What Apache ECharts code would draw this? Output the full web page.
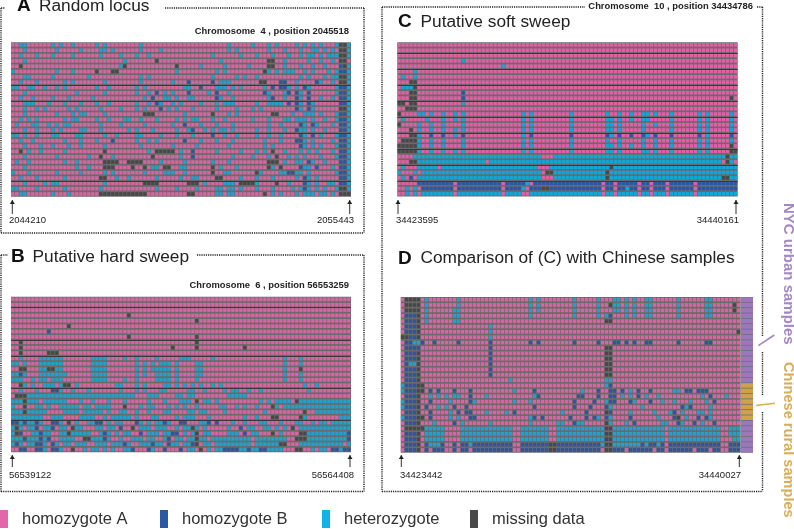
<!DOCTYPE html>
<html><head><meta charset="utf-8">
<style>html,body{margin:0;padding:0;background:#fff}#c{width:794px;height:529px}</style>
<script src="https://cdn.jsdelivr.net/npm/echarts@6/dist/echarts.min.js"></script>
</head><body><div id="c"></div>
<script>
// . homozygote A, B homozygote B, H heterozygote, M missing
const rowsA = [
"..HH...... H.H..H.... .H.H...... ..H....... .......... ....H..... H...H.H... .H.H.H.H.. .HMMH",
"...H...... .H.....H.. ..HH.H.... ..H....H.. .......... ....H.H... ....H...H. ..H..HH.H. H.MMH",
"..H...H... H....H.... ..H....H.. .H..H..... .......... H......H.. .H...H...H ..H.HH.H.H HHMMH",
"...H...... .......... ........H. ......M... .......... ..H....... ....MM..H. ....H..H.. H.MM.",
"..M....... .......... .......HM. .......... .M.....H.. ...H.....H ....MM..H. ..H..H..H. ..BMH",
"H......... .H...H.... .M...MM... .......... .H........ .H.H...... ...MH.H.HH H..H.H...H .HBBH",
"...HH..... H........H .......... ..H.H..... .......... H.....H.H. .H........ ..H.H...H. HHMMH",
"..H...H... ...H.H.... ...H...... ..H....... H...B..... B.HHH..... ..MM...BB. .H....BH.. H.MMH",
"HH..HH..H. .H.H...... .H..H..... .H.H...... ...HH..B.. .HHH.H.H.. ...H.B.BBH .H.BH..... .HBBH",
"...H...... ......H... ...H...... .H..H.B.H. H...B....H .B..H..... ...BH...HB .BH.B..... .HBBH",
"..H..H.... H...H..... H......... ...H.B..HH .H..HH.... .BH..H.... ....HB..H. .BH.B..H.. H.BBH",
"...HHH...H ...H...H.. .H..H..... .H..H.BH.. H.H....H.. .H.HHH.... .H..HHHH.B .BH.BH.... ..BBH",
"...H..H.H. ....H.H... ..H....H.. .H.H...B.H .H...H.... .H....H... H.H....... .BH.BH.... ..MMH",
"...H...... .H...H.HH. ...H...... ...MMM.... ...H...... M...H.H... .....MM... H..HHH.H.. .HBBH",
"..H.H.H... ...H.HH... .H..H...HH ..H...H... .H.H.HH... H..H...... H...H...HH .HHH.H..H. .HBBH",
".H...HH..H .H.HH..... ..H....H.. ...H...... H..B...H.. .H...H.... ....H..H.. ..BH.BH... H.BBH",
"...H..H... H.H....HH. ..H......H .H...H.... .H..HB..H. H.HH.H.... .H..H...H. .BHH.H..H. ..BBH",
"HH.H..H... HH....HH.. ...H..H... .HH....H.. .H...H.... B..H..H... .H..H..H.. ..BH.B.H.. .HBBH",
"..H..H.... ...H...H.. .H...B.... .H..H.H... ...B...H.. .H...H.... ...H...H.. .BBH.H.... H.BBH",
"...H...H.. H...H..H.. ...H...... ..H....... H.....H... ....H..... ...H.H.... ..BH.H.H.. .HBBH",
"..M.H..H.. ...H...... ...M...... ....H.MMMM M.H..B.... .H.....H.. .H.H.M..H. ..H.H.H... H.BBH",
"...H...... .H.......H ..M..H.... .....M.... ..H..B.... .....H.... H...H.M..H .H.H...H.. .HBBH",
".H..H..... ...H..H... ...MMMM..M MMM....H.. ...H...... H...H..... ....MMM.H. .HH.BH..H. ..BBH",
"...H...... ......H..H ...MMM.... M..M.HH.MM ..HH...... M.H...H... ....MH.M.. ..BHH.B... H.BBH",
"H...H..... .H.....H.. ...H.H.... ...H....HH H..H...... M..HH..... .MH....HHB BHH.H..... .HBBH",
"..H...H... ...H...... ..MM..H..H ......H... ..H..HH... .MM....H.. .H...H.... .H.BH.H... ..BBH",
"...H....H. HH........ ...H...... ...MMMM... ....MMM.H. ...HHH.MMM MH....M..H ...BH.H..H H.BBH",
"HH....H... ...H...... ..H....... ......H... .H....H... .HH.HH.H.. .H...H.... H.HBH.H.H. .HMMH",
"..HH...... H...H..... ..MMMMMMMM MMMM...... ....MM.... .HH.HH.... ...M.H.H.. .H.HHH.HH. H.MMM"
];
const rowsB = [
".......... .......... .......... .......... .......... .......... .......... .......... .....",
".......... .......... .......... .......... .......... .......... .......... .......... .....",
".......... .......... .......... .......... .......... .......... .......... .......... .....",
".......... .......... .........M .......... .......... .......... .......... .......... .....",
".......... .......... .......... .......... ......M... .......... .......... .......... .....",
".......... ....M..... .......... .......... .......... .......... .......... .......... .....",
".........B .......... .......... .......... .......... .......... .......... .......... .....",
".......... .......... .........M .......... ......M... .......... .......... .......... .....",
"..M....... .......... .......... .......... ......M... .......... .......... .......... .....",
"..M....... .......... .......... .......... M.....M... ........M. .......... .......... .....",
"..M......M MM........ .......... .......... .......... .......... .......... .......... .....",
"..H....HHH HHH....... HHHH....H. .H....H... ..HHH..... H......... ........H. ..H....... .....",
"HH.H...HHH HHH....... HHHH...... .H.H.H.HHH .H....HH.. .......... ........H. ..H....... .....",
"..MM...HHM MHH....... HHHH...... .H.H.HHHHH .H....HH.. .......... ........H. ..M....... .....",
"HHBH...HHH HHHH...... HHHH...... .H.H..HHHH .H....HH.. .......... ........H. ..H....... .....",
"HHH..H.HH. HHH....... HHHH....H. .H....HHHH .H....H... .......... ........H. ..H....... .....",
"..MH.H..HH H.HMM.H... ......HH.. .H.H....HH .H.H.H.H.. H.H....... .......... ...H..H... .....",
"..H...H... BBH..H...H .......H.. .H.H...HH. ....HH..H. ...H.HH..H ..H....... ....H..... .....",
".MMMHHHHHH HHHHHHHHHH HHHHHHHHHH H...HHH... .HH.HH.... ....HHHHH. .......... .......... .....",
"HHHMHHH.HH HHHH...H.. H...H...H. ....H...H. ..HHH.M.HH .H........ ..H.H.HHHH .MHHHHHHHH HHHHH",
"H..M..HH.H ..HHHHH.HH .HHHH...M. ..H.HH...H .H.H..H... ..HH..H.H. .H...MH.HH HHHHHHHHHH HHHHH",
"HHHMHHHHH. ...HHHH.HH HHH.H..HH. .H..H...HH ....HH.HH. ...H...... ...H...... ...M..HHHH HHHHH",
"HHHHHHHH.. HHH....HHH H..H.HHHHH .H...HH... .H.HHH...H ........H. .H...MM... ..MH...... ..HHH",
"BBHBHHBH.. BBH.M.H..H HBB.H.HH.. .BH.H.HHBH ..BB...HHB .B...H..H. ..HH...H.. .HH..H.HH. HHHHH",
"HMH.HHB.HH B.HH.MHH.. .HH.HH.B.. M.HHH.HHH. .H.HHMH.H. ....H..B.H H..HH.H.H. M.HHHHHHHH HHHHH",
"HMB..HHBHH ..HHMHHHHH ..HBH.H.HH ..B.HHH.HH BB.H.HM.HH ....HHH.B. HH...M.H.. ..MMHHHHHH HHHHB",
"HHHBHHHBHB ..HHHH..MM HHHBH..H.. HHH.HH..HB .HH.HHMHH. HHHHHHHHHH .HHHHHHHH. .MMMHHHHHH HHHHB",
"HBH.HHBBH. BH.HH.HHH. .HHH.HHHBH ..HHHBHH.B HH.HHBM.HH .HHHHHHHHH .HHHHHHMM. ..HHHHHHHH HHH.H",
"..BB..BBH. BBH..M..H. HH.H.H..HH B...BH..B. ..B.HH.M.H .HHBBBBHHB HHBBHHHH.. .MM..H.HH. BBHBB"
];
const rowsC = [
".......... .......... .......... .......... .......... .......... .......... .......... .....",
".......... .......... .......... .......... .......... .......... .......... .......... .....",
".......... .......... .......... .......... .......... .......... .......... .......... .....",
".......... ......H... .......... .......... .......... .......... .......... .......... .....",
".......... .......... ......H... .......... .......... .......... .......... .......... .....",
"....H..... .......... .......... .......... .......... .......... .......... .......... .....",
".H..H..... .......... .......... .......... .......... .......... .......... .......... .....",
"...MM..... .......... .......... .......... .......... .......... .......... .......... .....",
".HHHM..... .......... .......... .......... .......... .......... .......... .......... .....",
"...MM..... ......B... .......... .......... .......... .......... .......... .......... .....",
"...MM..... ......B... .......... .......... .......... .......... .......... .......... ...M.",
"MM.MM..... ......H... .......... .......... .......... .......... .......... .......... .....",
"..MMM..... .......... .......... .......... .......... .......... .......... .......... .....",
"M....HH.H. .H..H.H... .......... .H.H...... ...H...... ..H..H..H. .HH.H...H. .....H.H.. ...H.",
".H.....H.. .H..H.H... .......... .H.H...... ...H...... ..HH.H..H. .HH.....H. .....H.H.. ...H.",
"M....H..H. .H....H... .......... .H.H...... ...H...... ..HH.H.... .H..H...H. .....H.H.. ...H.",
"...M.H..H. .H..H.H... .......... .H.H...... ...H...... ..HH.H.... .H......H. .....H.H.. ...H.",
"...MMH..B. .B..H.B... .......... .H.B...... ...B...... ..BH.B..B. .BH.B...B. .....B.H.. ...B.",
".MMMMH..H. .H....H... .......... .H.H...... ...H...... ..H..H.... .H..H...H. .....H.H.. ...H.",
"MMMMMH..H. .H....H... .......... .H.H...... ...H...... ..HH.H..H. .H..H...H. .....H.H.. ...M.",
"MMMMMH..H. .H..H.H... .......... .H.H...... ...H...... ..HH.H.... .HH.H...H. .....H.H.. ...MM",
"....HHHHHH HHHHHHHHHH HHHHHHHHHH HHHHHH...H HHHHHHHHHH HHHHHHHHHH HHHHHHHHHH HHHHHHHHHH HHMHH",
"...MMHHHHH HHHHHHHHHH HH.HHHHHHH HHHHHHHHHH HHHHHHHHHH HHHHHHHHHH HHHHHHHHHH HHHHHHHHHH H.MH.",
".H...HHHHH .HHHHHHHHH HHHHHHHHHH HHHHH...HH HHHHHHHHHH HHHMHHHHHH HHHHHHHHHH HHHHHHHHHH HHHHH",
"H...H.HHHH HHHHHHHHHH HHHHHHHHHH HHHHHH.MMH HHHHHHHHHH HHMHHHHHHH HHHHHHHHHH HHHHHHHHHH HHHHH",
".H.B.HHHHH HHHHHHHHHH HHHHHHHHHH HHHHHH...H HHHHHHHHHH HHMHHHHHHH HHHHHHHHHH HHHHHHHHHH HMMHH",
".....BBBBB BBBB.BBBBB BBBBBB.BBB BBH.BBBBBB BBBBBBBBBB B.BB.BBBBB .BB.BBB.BB BBBB.BBBBB BBBBB",
"..H.H.BBBB BBBB.BBBBB BBBBBB.BBB BH.BBBMMBB BBBBBBBBBB B.BB.BBHBB .BB.BBB.BB BBBB.BBBBB BBBBB",
"..H.H.HHHH HHHH.HHHHH HHHHHH.HHH H..HHHHHHH HHHHHHHHHH H.HH.HHHHH .HH.HHH.HH HHHH.HHHHH HHHHH"
];
const rowsD = [
".MMMM.H... ....H..... .......... ..H.H..... ...H.....H ...HH.H.H. .HH......H ......HH.. .....",
".MMMM.H... ....H..... .......... ..H.H..... ...H.....H ..MHH.H.H. .HH......H ......HH.. ...M.",
".MMMM.H... ...HH..... .......... ..H.H..... ...H.....H ...HH.H.H. .HH......H ......HH.. ...M.",
".BBBM.H... ...HH..... .......... ..H....... ...H.....H .HB...H.H. .HH......H ......HH.. .....",
".BBBM.H... ...HH..... .......... .......... .......... .MM....... .......... .......... .....",
".BBBM..... .......... ..H....... .......... .......... .......... .......... .......... .....",
".BBBM..... .......... ..H....... .......... .......... .......... .......... .......... ....M",
"MMBBM..... .......... ..H....... .......... .......... .......... .......... .......... .....",
".BBHHB..B. ....B..... ..B....... ..B.B..... ...B.....B ...BB.B.B. .BB......B ......BB.. .....",
".BBBB..... .......... ..B....... .......... .......... .MM....... .......... .......... .....",
".BBBM..... .......... ..B....... .......... .......... .MM....... .......... .......... .....",
".BBBM..... .......... ..B....... .......... .......... .MM....... .......... .......... .....",
".BHHM..... .......... ..B....... .......... .......... .MM....... .......... .......... .....",
".BBBM..... .......... ..B....... .......... .......... .MM....... .......... .......... .....",
".BBBM..... .......... ..B....... .......... .......... .MM....... .......... .......... .....",
".BBBM..... .......... .......H.. .......... .......... .HH....... .......... .......... .....",
"HBBBMM.... .......... .......... .......... .......... .HB....... .......... .......... .....",
"HBBBMM.B.B ...B...B.. ........H. ...B...... .....H...B ..BB.B.H.B ..B.....HH .BB.BBB... .....",
".BBBM..H.H .H.HH..B.. .H........ ...HB..... ....BB...B ..BB.H.H.B .H..H..... .....H.B.. .H...",
"HBBBM..B.. ..H....BH. ........H. ..H....... ...B....B. .HBB...BH. ..B..H..H. ..H...H.B. .....",
"HBBBM.B..H .H.B..B... .......... ...B...... ...B...B.. .BH....... H......... BHB....H.. .....",
".BBBM..B.. ..H.B.BB.. .H....H.B. .......... H.....B... .MB....H.. ...H...HB. H...HH.H.. .....",
"HBBBMM.B.. ..H.H..BB. .......... ..HB.B.... ..B...B.BH .BH....B.. ....H...BM .H..B.BH.. .....",
".BBBM...H. ...B.H.... ..H....... ..H......H H..BHH.... .MH...H.B. .....HH..B H..B.H..B. .....",
".MMMMMHHHH H....HHHHH HHHHHHHH.. HHHHHHH..H HHHHHHHHHH HMMHHHHHHH HHHHHH.HHH HHHHHHHHHH ..HHH",
".BBBM.HHHH H....HHHHH HHHHHHHH.. HHHHHHH..H HHHHHHHHHH HMMHHHHHHH HHHHHH.HHH HHHHHHHHHH ..HHH",
".BBBM.HHHH H....HHHHH HHHHHHHH.. HHHHHHH..H HHHHHHHHHH HMMHHHHHHH HHHHHH.HHH HHHHHHHHHH ...HH",
".BBBM.BHHH B..B.BBHBB BBBBBBBB.. BBBBBBBMMB BBBBBBBBBB HMMHHHHHHH BHBBHB.BBB BBBBBBBBBB ..BBB",
".BBBM.B.BB B..B.BB.BB BBBBBBBB.. BBBBBBBMMB BBBBBBBBBB .MMBBB.BBB BBB.BB.BBB BBB.BBB.BB ..BBB"
];
const sampleGroups = ["N","N","N","N","N","N","N","N","N","N","N","N","N","N","N","N","R","R","R","R","R","R","R","N","N","N","N","N","N"];
const darkRows = { A:[8,11,17,26], B:[2,8,11,17,23], C:[2,5,8,11,14,17,20,23,26], D:[] };
const colLabels = ["homozygote A","homozygote B","heterozygote","missing data"];
const regionA = ["2044210","2055443"], regionB = ["56539122","56564408"], regionC = ["34423595","34440161"], regionD = ["34423442","34440027"];

const COLS = 85;
const codes = {".":0,"B":1,"H":2,"M":3};
const cellColor = ["#de62a3","#2c56a3","#14a6d6","#484848"];
const legendColor = ["#e466aa","#2a57a6","#12b4e6","#4a4a4a"];
function toCells(rows){
  const out=[];
  rows.forEach((r,y)=>{
    const s=r.replace(/ /g,"");
    for(let x=0;x<COLS;x++){ out.push([x,y,codes[s[x]]||0]); }
  });
  return out;
}
const panels=[
 {rows:rowsA,dark:darkRows.A,l:11,t:42.3,w:340,h:154.4},
 {rows:rowsB,dark:darkRows.B,l:11,t:296.7,w:340,h:155.6},
 {rows:rowsC,dark:darkRows.C,l:397.3,t:42.3,w:340.4,h:154.2},
 {rows:rowsD,dark:darkRows.D,l:400.7,t:297,w:340,h:155.7}
];
const grid=[],xAxis=[],yAxis=[],series=[];
const rng=n=>Array.from({length:n},(_,i)=>i);
panels.forEach((p,i)=>{
  grid.push({left:p.l,top:p.t,width:p.w,height:p.h,show:true,backgroundColor:"#6a6a6a",borderWidth:0});
  xAxis.push({type:"category",gridIndex:i,show:false,data:rng(COLS)});
  yAxis.push({type:"category",gridIndex:i,show:false,inverse:true,data:rng(29)});
  series.push({type:"custom",xAxisIndex:i,yAxisIndex:i,coordinateSystem:"cartesian2d",silent:true,animation:false,
    data:toCells(p.rows),
    renderItem:(params,api)=>{
      const c=api.coord([api.value(0),api.value(1)]),s=api.size([1,1]);
      return {type:"rect",shape:{x:c[0]-s[0]/2+0.15,y:c[1]-s[1]/2+0.8,width:s[0]-0.7,height:s[1]-1.7},
        style:{fill:cellColor[api.value(2)]}};
    }});
});
// sample group bar beside panel D
grid.push({left:741,top:297,width:12,height:155.7,show:true,backgroundColor:"#6f6f7a",borderWidth:0});
xAxis.push({type:"category",gridIndex:4,show:false,data:[0]});
yAxis.push({type:"category",gridIndex:4,show:false,inverse:true,data:rng(29)});
series.push({type:"custom",xAxisIndex:4,yAxisIndex:4,coordinateSystem:"cartesian2d",silent:true,animation:false,
  data:sampleGroups.map((g,i)=>[0,i,g==="N"?0:1]),
  renderItem:(params,api)=>{
    const c=api.coord([api.value(0),api.value(1)]),s=api.size([1,1]);
    return {type:"rect",shape:{x:c[0]-s[0]/2,y:c[1]-s[1]/2+0.3,width:s[0],height:s[1]-0.8},style:{fill:["#9b78bb","#cfa24a"][api.value(2)]}};
  }});

const F='"Liberation Sans",Arial,sans-serif';
const g=[];
function txt(x,y,t,size,opt={}){
  g.push({type:"text",x,y,rotation:opt.rot||0,style:{text:t,font:`${opt.w||"normal"} ${size}px ${F}`,fill:opt.c||"#222",
    textAlign:opt.a||"left",textVerticalAlign:"middle"},silent:true});
}
function seg(x1,y1,x2,y2,dash=true){
  g.push({type:"line",shape:{x1,y1,x2,y2},style:{stroke:"#222",lineWidth:1.4,lineDash:dash?[1.2,1]:null},silent:true});
}
function arrow(x,y1,y2){
  g.push({type:"line",shape:{x1:x,y1:y1,x2:x,y2:y2},style:{stroke:"#333",lineWidth:1},silent:true});
  g.push({type:"polygon",shape:{points:[[x-2.5,y1+4],[x+2.5,y1+4],[x,y1]]},style:{fill:"#222"},silent:true});
}
// darker separators between some rows
panels.forEach(p=>p.dark.forEach(r=>{
  const y=Math.round(p.t+p.h*r/29)+0.5;
  g.push({type:"line",z:5,shape:{x1:p.l,y1:y,x2:p.l+p.w,y2:y},style:{stroke:"#3a3a3a",lineWidth:1},silent:true});
}));
// frames
seg(1,8,5,8);seg(165,8,364,8);seg(364,8,364,233);seg(1,233,364,233);seg(1,8,1,233);
seg(1,255,8,255);seg(197,255,364,255);seg(364,255,364,491.5);seg(1,491.5,364,491.5);seg(1,255,1,491.5);
seg(382,7,585,7);seg(757,7,762.5,7);seg(382,7,382,491.5);seg(382,491.5,762.5,491.5);
seg(762.5,7,762.5,337);seg(762.5,352,762.5,395);seg(762.5,412,762.5,491.5);
// titles
txt(17,6,"A",19,{w:"bold",c:"#111"});txt(39,6,"Random locus",17.3);
txt(11,257,"B",19,{w:"bold",c:"#111"});txt(32.5,257,"Putative hard sweep",17.3);
txt(398,22,"C",19,{w:"bold",c:"#111"});txt(420.5,22,"Putative soft sweep",17.3);
txt(398,258.5,"D",19,{w:"bold",c:"#111"});txt(420.5,258.5,"Comparison of (C) with Chinese samples",17.3);
// position notes
txt(349,31.5,"Chromosome  4 , position 2045518",9.4,{w:"bold",a:"right"});
txt(349,285,"Chromosome  6 , position 56553259",9.4,{w:"bold",a:"right"});
txt(753,6.5,"Chromosome  10 , position 34434786",9.4,{w:"bold",a:"right"});
// region labels and arrows
arrow(12.3,200,214);arrow(349.7,200,214);txt(9,220.5,regionA[0],9.5);txt(354,220.5,regionA[1],9.5,{a:"right"});
arrow(12.3,455,467);arrow(350,455,467);txt(9,475.5,regionB[0],9.5);txt(354,475.5,regionB[1],9.5,{a:"right"});
arrow(398,200,214);arrow(736,200,214);txt(396,220.5,regionC[0],9.5);txt(739,220.5,regionC[1],9.5,{a:"right"});
arrow(401.3,455,467);arrow(739.3,455,467);txt(400,475.5,regionD[0],9.5);txt(741,475.5,regionD[1],9.5,{a:"right"});
// legend
[0,160,322,470].forEach((x,i)=>{
  g.push({type:"rect",shape:{x,y:510,width:8,height:18},style:{fill:legendColor[i]},silent:true});
  txt(x+22,519,colLabels[i],16.5,{c:"#333"});
});
// group labels
txt(788,203,"NYC urban samples",15,{w:"bold",c:"#a586c6",rot:-Math.PI/2});
txt(788,362,"Chinese rural samples",14.6,{w:"bold",c:"#d9ad58",rot:-Math.PI/2});
g.push({type:"line",shape:{x1:758.3,y1:345.7,x2:774.3,y2:335},style:{stroke:"#a586c6",lineWidth:1.6},silent:true});
g.push({type:"line",shape:{x1:756,y1:405.5,x2:775,y2:403.3},style:{stroke:"#d9ad58",lineWidth:1.6},silent:true});

const chart=echarts.init(document.getElementById("c"),null,{renderer:"canvas"});
chart.setOption({animation:false,backgroundColor:"#fff",grid,xAxis,yAxis,series,graphic:{elements:g}});
</script></body></html>
